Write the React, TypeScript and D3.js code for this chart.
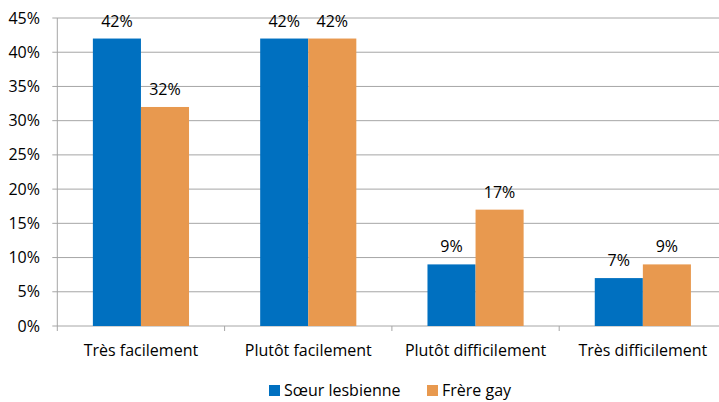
import React from "react";
import * as d3 from "d3";

const categories = ["Très facilement", "Plutôt facilement", "Plutôt difficilement", "Très difficilement"];
const seriesNames = ["Sœur lesbienne", "Frère gay"];
const soeur = [42, 42, 9, 7];
const frere = [32, 42, 17, 9];
const yTicks = [0, 5, 10, 15, 20, 25, 30, 35, 40, 45];
const colors = ["#0070C0", "#E8994F"];

export default function App() {
  const W = 719, H = 402;
  const left = 57.3, right = 726.5, top = 18, bottom = 326;
  const font = "'Open Sans', sans-serif";
  const fs = 16;
  const y = d3.scaleLinear().domain([0, 45]).range([bottom, top]);
  const x0 = d3.scaleBand<string>().domain(categories).range([left, right]).paddingInner(0).paddingOuter(0);
  const x1 = d3.scaleBand<string>().domain(seriesNames).range([0, x0.bandwidth()]).paddingInner(0).paddingOuter(0.74);
  const series = [soeur, frere];
  const grid = "#A6A6A6";
  return (
    <svg width={W} height={H} style={{ position: "absolute", left: 0, top: 0, background: "#fff" }}>
      {yTicks.map((t) => (
        <g key={t}>
          <line x1={left - 5} x2={W} y1={y(t)} y2={y(t)} stroke={grid} strokeWidth={1} />
          <text x={40} y={y(t) + 5.5} textAnchor="end" fontFamily={font} fontSize={fs} fill="#000">{t}%</text>
        </g>
      ))}
      <line x1={left} x2={left} y1={top} y2={bottom + 5} stroke={grid} strokeWidth={1} />
      {categories.map((c, i) => (
        <line key={"tk" + i} x1={x0(c)! + x0.bandwidth()} x2={x0(c)! + x0.bandwidth()} y1={bottom} y2={bottom + 5} stroke={grid} />
      ))}
      {series.map((vals, si) =>
        categories.map((c, i) => {
          const bx = x0(c)! + x1(seriesNames[si])!;
          const bw = x1.bandwidth();
          return (
            <g key={si + "-" + i}>
              <rect x={bx} y={y(vals[i])} width={bw} height={bottom - y(vals[i])} fill={colors[si]} />
              <text x={bx + bw / 2} y={y(vals[i]) - 12} textAnchor="middle" fontFamily={font} fontSize={fs} fill="#000">{vals[i]}%</text>
            </g>
          );
        })
      )}
      {categories.map((c) => (
        <text key={c} x={x0(c)! + x0.bandwidth() / 2} y={356} textAnchor="middle" fontFamily={font} fontSize={fs} fill="#000">{c}</text>
      ))}
      <rect x={269} y={385} width={11} height={11} fill={colors[0]} />
      <text x={284} y={396} fontFamily={font} fontSize={fs} fill="#000">{seriesNames[0]}</text>
      <rect x={427} y={385} width={11} height={11} fill={colors[1]} />
      <text x={442} y={396} fontFamily={font} fontSize={fs} fill="#000">{seriesNames[1]}</text>
    </svg>
  );
}
